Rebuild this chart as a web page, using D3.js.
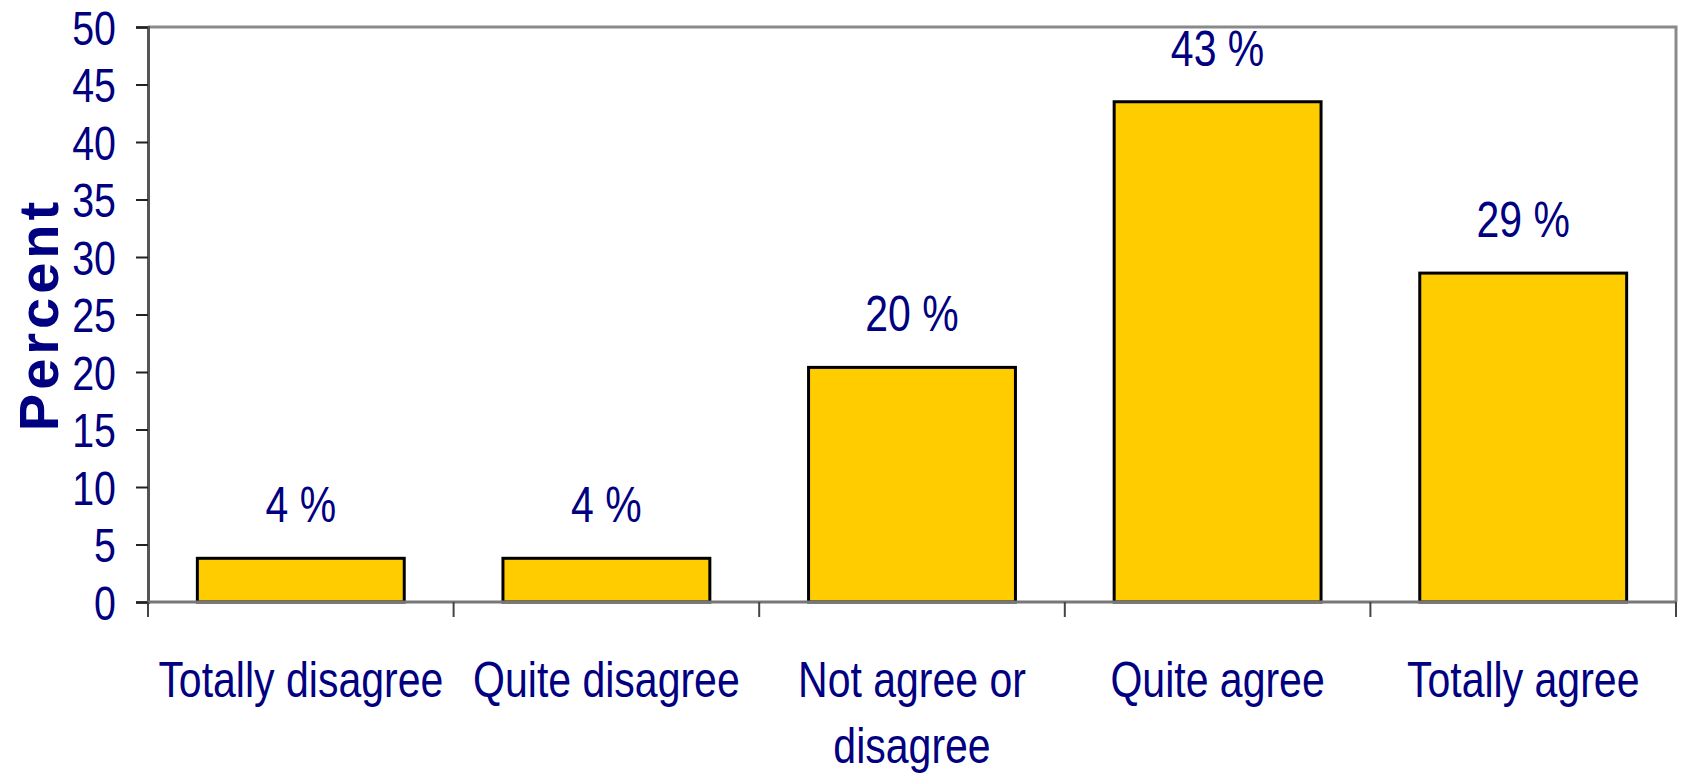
<!DOCTYPE html>
<html><head><meta charset="utf-8">
<script src="https://cdn.jsdelivr.net/npm/d3@7"></script>
<style>
html,body{margin:0;padding:0;background:#fff;}
svg{display:block;}
</style></head>
<body>
<svg id="chart" width="1681" height="775"></svg>
<script>
const categories = [["Totally disagree"], ["Quite disagree"], ["Not agree or", "disagree"], ["Quite agree"], ["Totally agree"]];
const values = [3.8, 3.8, 20.4, 43.5, 28.6];
const valueLabels = ["4 %", "4 %", "20 %", "43 %", "29 %"];
const yTicks = [0, 5, 10, 15, 20, 25, 30, 35, 40, 45, 50];
const yTitle = "Percent";

const W = 1681, H = 775;
const m = {left: 148, right: 5, top: 27, bottom: 173};
const svg = d3.select("#chart");
const navy = "#000080";
const sans = "'Liberation Sans',Arial,sans-serif";
const SX = 0.82; // narrow look

const x = d3.scaleBand().domain(d3.range(categories.length)).range([m.left, W - m.right]).padding(0);
const y = d3.scaleLinear().domain([0, 50]).range([H - m.bottom, m.top]);
const barW = x.bandwidth() * 0.677;

// plot frame top/right
svg.append("path")
  .attr("d", `M${m.left},${y(50)}H${W - m.right}V${y(0)}`)
  .attr("fill", "none").attr("stroke", "#8a8a8a").attr("stroke-width", 3);

// bars
svg.append("g").selectAll("rect").data(values).join("rect")
  .attr("x", (d, i) => x(i) + (x.bandwidth() - barW) / 2)
  .attr("y", d => y(d))
  .attr("width", barW)
  .attr("height", d => y(0) - y(d))
  .attr("fill", "#FFCC00").attr("stroke", "#000").attr("stroke-width", 3);

// value labels
svg.append("g").selectAll("text").data(values).join("text")
  .attr("transform", (d, i) => `translate(${x(i) + x.bandwidth() / 2},${y(d) - 36}) scale(${SX},1)`)
  .attr("text-anchor", "middle")
  .attr("font-family", sans).attr("font-size", 50).attr("fill", navy)
  .text((d, i) => valueLabels[i]);

// y axis
const yAxis = svg.append("g").attr("transform", `translate(${m.left},0)`)
  .call(d3.axisLeft(y).tickValues(yTicks).tickSize(12).tickPadding(0).tickFormat(d3.format("d")));
yAxis.select(".domain").attr("stroke", "#555").attr("stroke-width", 3);
yAxis.selectAll(".tick line").attr("stroke", "#222").attr("stroke-width", 2);
yAxis.selectAll(".tick text")
  .attr("x", null).attr("dy", null)
  .attr("transform", `translate(-32,17) scale(${SX},1)`)
  .attr("font-family", sans).attr("font-size", 48).attr("fill", navy);

// x axis
const xAxis = svg.append("g").attr("transform", `translate(0,${y(0)})`);
xAxis.append("line").attr("x1", m.left).attr("x2", W - m.right).attr("y1", 0).attr("y2", 0)
  .attr("stroke", "#777").attr("stroke-width", 3);
const bounds = d3.range(categories.length + 1).map(i => i < categories.length ? x(i) : x(i - 1) + x.bandwidth());
xAxis.selectAll("line.tk").data(bounds).join("line").attr("class", "tk")
  .attr("x1", d => d).attr("x2", d => d).attr("y1", 0).attr("y2", 15)
  .attr("stroke", "#444").attr("stroke-width", 2);
const lab = xAxis.selectAll("text.cat").data(categories).join("text").attr("class", "cat")
  .attr("transform", (d, i) => `translate(${x(i) + x.bandwidth() / 2},95) scale(${SX},1)`)
  .attr("text-anchor", "middle")
  .attr("font-family", sans).attr("font-size", 50).attr("fill", navy);
lab.selectAll("tspan").data(d => d).join("tspan")
  .attr("x", 0)
  .attr("dy", (d, j) => j === 0 ? 0 : 66)
  .text(d => d);

// y title
svg.append("text")
  .attr("transform", `translate(58,${(y(0) + y(50)) / 2}) rotate(-90)`)
  .attr("text-anchor", "middle")
  .attr("font-family", sans).attr("font-weight", "bold")
  .attr("font-size", 56).attr("letter-spacing", 4).attr("fill", navy)
  .text(yTitle);
</script>
</body></html>
